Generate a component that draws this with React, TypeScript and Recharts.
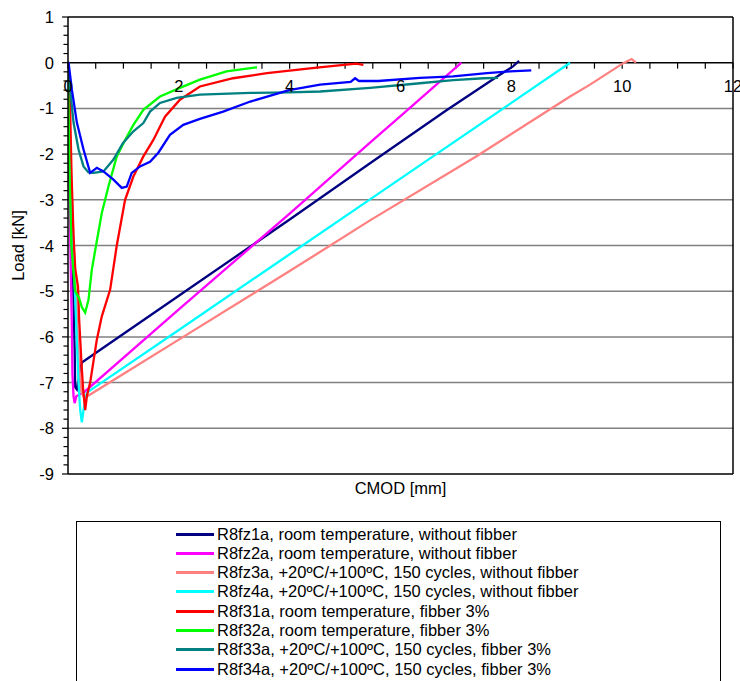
import { LineChart, Line, XAxis, YAxis, CartesianGrid, ReferenceLine } from 'recharts'

// CMOD [mm] / Load [kN] pairs
const r8fz1a = [
  [0, 0], [0.02, -1], [0.05, -2.5], [0.08, -4], [0.1, -5.2], [0.12, -6.3], [0.13, -7.1], [0.16, -7.15],
  [0.25, -6.56], [2, -5.1], [4, -3.43], [5.45, -2.2], [6.83, -1.04], [7.8, -0.26], [8.03, -0.08], [8.14, 0.04],
]
const r8fz2a = [
  [0, 0], [0.01, -1.5], [0.03, -3], [0.05, -4.5], [0.07, -5.8], [0.08, -6.8], [0.1, -7.3], [0.12, -7.45],
  [0.15, -7.3], [0.3, -7.2], [2, -5.4], [4, -3.3], [5.45, -1.75], [6, -1.17], [7.1, 0],
]
const r8fz3a = [
  [0, 0], [0.03, -1.5], [0.07, -3], [0.12, -4.5], [0.16, -5.6], [0.2, -6.6], [0.24, -7.2], [0.3, -7.35],
  [0.35, -7.3], [2, -6.06], [4, -4.56], [5.45, -3.45], [7.38, -2.04], [9.06, -0.74], [9.42, -0.48],
  [10.02, -0.01], [10.17, 0.08], [10.25, 0],
]
const r8fz4a = [
  [0, 0], [0.03, -1.5], [0.07, -3], [0.11, -4.5], [0.15, -5.8], [0.19, -7], [0.22, -7.6], [0.25, -7.87],
  [0.28, -7.6], [0.34, -7.22], [2, -5.85], [4, -4.19], [5.45, -2.99], [8, -0.88], [9.06, 0],
]
const r8f31a = [
  [0, 0], [0.03, -0.5], [0.04, -1.1], [0.065, -2.5], [0.1, -3.8], [0.13, -4.5], [0.18, -4.9], [0.2, -5.6],
  [0.24, -6.5], [0.27, -7.1], [0.31, -7.6], [0.34, -7.3], [0.4, -7.0], [0.52, -6.06], [0.61, -5.55],
  [0.76, -4.97], [0.88, -4.0], [1.03, -3.0], [1.18, -2.49], [1.36, -2.05], [1.54, -1.69], [1.75, -1.18],
  [2.02, -0.81], [2.38, -0.52], [2.98, -0.34], [3.59, -0.23], [4.49, -0.11], [5.2, -0.02], [5.33, -0.05],
]
const r8f32a = [
  [0, 0], [0.01, -1], [0.02, -2], [0.04, -3], [0.06, -4], [0.1, -4.6], [0.13, -5.0], [0.2, -5.15],
  [0.25, -5.35], [0.31, -5.47], [0.37, -5.19], [0.43, -4.53], [0.52, -3.9], [0.61, -3.29], [0.73, -2.71],
  [0.88, -2.05], [1.03, -1.69], [1.18, -1.36], [1.36, -1.03], [1.66, -0.74], [2.02, -0.55], [2.38, -0.37],
  [2.86, -0.19], [3.41, -0.1],
]
const r8f33a = [
  [0, 0], [0.02, -0.3], [0.04, -0.59], [0.1, -1.31], [0.19, -1.9], [0.28, -2.27], [0.37, -2.4], [0.46, -2.41],
  [0.64, -2.38], [0.82, -2.12], [0.99, -1.76], [1.18, -1.5], [1.36, -1.32], [1.48, -1.07], [1.66, -0.88],
  [1.96, -0.77], [2.38, -0.7], [3.29, -0.66], [3.99, -0.65], [4.55, -0.63], [5.45, -0.55], [6.35, -0.45],
  [6.95, -0.38], [7.5, -0.34], [7.76, -0.33],
]
const r8f34a = [
  [0, 0.02], [0.01, 0], [0.07, -0.59], [0.16, -1.31], [0.28, -1.9], [0.4, -2.41], [0.52, -2.3], [0.64, -2.38],
  [0.82, -2.56], [0.97, -2.74], [1.06, -2.71], [1.15, -2.41], [1.3, -2.27], [1.48, -2.17], [1.63, -1.97],
  [1.84, -1.58], [2.08, -1.36], [2.38, -1.23], [2.8, -1.07], [3.29, -0.85], [3.99, -0.6], [4.55, -0.48],
  [5.1, -0.42], [5.18, -0.34], [5.25, -0.4], [5.6, -0.4], [6.35, -0.33], [6.95, -0.3], [7.56, -0.23],
  [7.98, -0.19], [8.36, -0.17],
]

const seriesNames = [
  'R8fz1a, room temperature, without fibber',
  'R8fz2a, room temperature, without fibber',
  'R8fz3a, +20ºC/+100ºC, 150 cycles, without fibber',
  'R8fz4a, +20ºC/+100ºC, 150 cycles, without fibber',
  'R8f31a, room temperature, fibber 3%',
  'R8f32a, room temperature, fibber 3%',
  'R8f33a, +20ºC/+100ºC, 150 cycles, fibber 3%',
  'R8f34a, +20ºC/+100ºC, 150 cycles, fibber 3%',
]
const seriesColors = ['#000080', '#FF00FF', '#FF8080', '#00FFFF', '#FF0000', '#00FF00', '#008080', '#0000FF']
const seriesData = [r8fz1a, r8fz2a, r8fz3a, r8fz4a, r8f31a, r8f32a, r8f33a, r8f34a]

const xLabelTicks = [0, 2, 4, 6, 8, 10, 12]
const xMinorTicks = Array.from({ length: 25 }, (_, i) => i * 0.5)
const yMajorTicks = [1, 0, -1, -2, -3, -4, -5, -6, -7, -8, -9]
const yTicks = Array.from({ length: 51 }, (_, i) => Math.round((1 - i * 0.2) * 10) / 10)
const gridValues = [-1, -2, -3, -4, -5, -6, -7, -8]

const font = 'Arial, "Liberation Sans", sans-serif'
const fs = 16.5

function YTick(props: any) {
  const { x, y, payload } = props
  const v = payload.value
  const major = yMajorTicks.includes(v)
  return (
    <g>
      <line x1={x - (major ? 6 : 4.5)} x2={x} y1={y} y2={y} stroke="#000" strokeWidth={1.2} />
      {major && (
        <text x={x - 14} y={y} textAnchor="end" dominantBaseline="central" fontSize={fs} fill="#000">
          {v}
        </text>
      )}
    </g>
  )
}

const yLabel = (p: any) => {
  const vb = p.viewBox
  const cx = vb.x + 18
  const cy = vb.y + vb.height / 2
  return (
    <text x={cx} y={cy} transform={`rotate(-90, ${cx}, ${cy})`} textAnchor="middle" dominantBaseline="central" fontSize={fs} fill="#000">
      Load [kN]
    </text>
  )
}

const xLabel = (p: any) => {
  const vb = p.viewBox
  return (
    <text x={vb.x + vb.width / 2} y={vb.y + 14} textAnchor="middle" dominantBaseline="central" fontSize={fs} fill="#000">
      CMOD [mm]
    </text>
  )
}

export default function App() {
  return (
    <div style={{ position: 'absolute', left: 0, top: 0, width: 740, height: 681, overflow: 'hidden', background: '#fff', fontFamily: font }}>
      <LineChart width={740} height={500} margin={{ top: 17, right: 7, left: 0, bottom: 0 }}>
        <CartesianGrid vertical={false} horizontalValues={gridValues} stroke="#808080" strokeWidth={1.5} />
        <XAxis
          type="number"
          dataKey="x"
          domain={[0, 12]}
          ticks={[]}
          tick={false}
          tickLine={false}
          axisLine={false}
          height={26}
          allowDataOverflow
          label={xLabel}
        />
        <YAxis
          type="number"
          domain={[-9, 1]}
          ticks={yTicks}
          interval={0}
          width={68}
          tickSize={0}
          tickMargin={0}
          tickLine={false}
          tick={<YTick />}
          axisLine={{ stroke: '#000', strokeWidth: 1.5 }}
          allowDataOverflow
          label={yLabel}
        />
        <ReferenceLine y={1} stroke="#000" strokeWidth={1.5} />
        <ReferenceLine y={-9} stroke="#000" strokeWidth={1.5} />
        <ReferenceLine x={12} stroke="#000" strokeWidth={1.5} />
        <ReferenceLine y={0} stroke="#000" strokeWidth={1.5} />
        {xMinorTicks.map((v) => (
          <ReferenceLine
            key={'t' + v}
            segment={[{ x: v, y: 0 }, { x: v, y: -0.13 }]}
            stroke="#000"
            strokeWidth={1.2}
            label={xLabelTicks.includes(v) ? { value: String(v), position: 'bottom', offset: 12, fontSize: fs, fill: '#000' } : undefined}
          />
        ))}
        {seriesData.map((d, i) => (
          <Line
            key={seriesNames[i]}
            data={d.map(([x, y]) => ({ x, y }))}
            dataKey="y"
            name={seriesNames[i]}
            type="linear"
            stroke={seriesColors[i]}
            strokeWidth={2.3}
            dot={false}
            activeDot={false}
            isAnimationActive={false}
          />
        ))}
      </LineChart>
      <div
        style={{
          position: 'absolute',
          left: 76,
          top: 521,
          width: 645,
          height: 200,
          border: '1px solid #000',
          boxSizing: 'border-box',
        }}
      >
        {seriesNames.map((name, i) => (
          <div
            key={name}
            style={{
              position: 'absolute',
              left: 99,
              top: 2 + i * 19.3,
              height: 20,
              display: 'flex',
              alignItems: 'center',
              whiteSpace: 'nowrap',
              fontSize: fs,
              color: '#000',
            }}
          >
            <span style={{ display: 'inline-block', width: 38, height: 3, background: seriesColors[i], marginRight: 3 }} />
            <span>{name}</span>
          </div>
        ))}
      </div>
    </div>
  )
}
